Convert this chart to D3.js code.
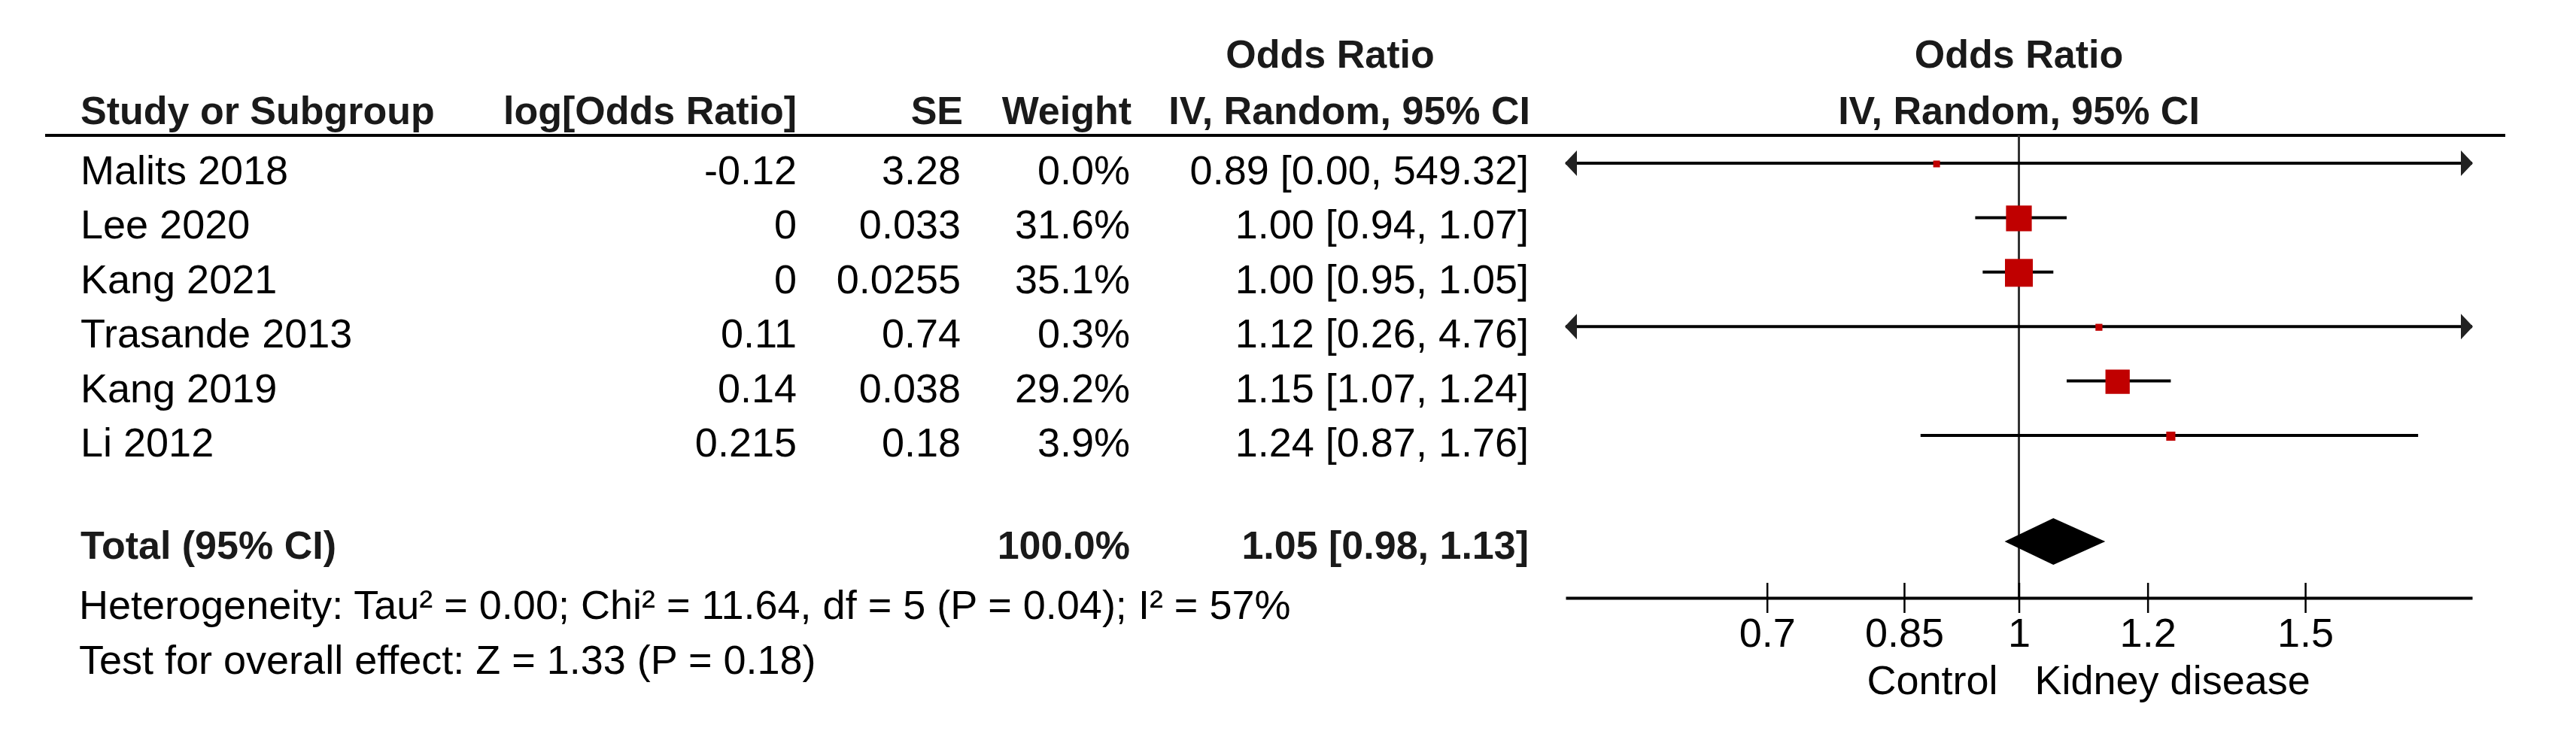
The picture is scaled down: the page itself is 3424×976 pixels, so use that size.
<!DOCTYPE html>
<html>
<head>
<meta charset="utf-8">
<script src="https://cdn.jsdelivr.net/npm/d3@7"></script>
<style>
  body { margin: 0; background: #fff; }
  text { font-family: "Liberation Sans", Arial, sans-serif; font-size: 54px; fill: #000; }
  .bold { font-weight: bold; fill: #1a1a1a; font-size: 52px; }
</style>
</head>
<body>
<div id="chart"></div>
<script>
// study data
const studies = ["Malits 2018", "Lee 2020", "Kang 2021", "Trasande 2013", "Kang 2019", "Li 2012"];
const logOR = ["-0.12", "0", "0", "0.11", "0.14", "0.215"];
const seVals = ["3.28", "0.033", "0.0255", "0.74", "0.038", "0.18"];
const weights = [0.0, 31.6, 35.1, 0.3, 29.2, 3.9];
const orVals = [0.89, 1.00, 1.00, 1.12, 1.15, 1.24];
const ciLow = [0.00, 0.94, 0.95, 0.26, 1.07, 0.87];
const ciHigh = [549.32, 1.07, 1.05, 4.76, 1.24, 1.76];
const total = { or: 1.05, lo: 0.98, hi: 1.13, weight: "100.0%" };
const tickVals = [0.7, 0.85, 1, 1.2, 1.5];
const heterogeneity = "Heterogeneity: Tau\u00b2 = 0.00; Chi\u00b2 = 11.64, df = 5 (P = 0.04); I\u00b2 = 57%";
const overall = "Test for overall effect: Z = 1.33 (P = 0.18)";

const width = 3424, height = 976;
const svg = d3.select("#chart").append("svg")
  .attr("width", width)
  .attr("height", height);

const x = d3.scaleLog().domain([1 / 1.9, 1.9]).range([2081, 3286]);
const [xMin, xMax] = x.domain();
const size = d3.scaleLinear().domain([0, 35.1]).range([9, 37]);

const rowBase = i => 245 + i * 72.4;
const rowMid = i => rowBase(i) - 28;
const axisY = 795;
const fmt = d3.format(".2f");

// headers
svg.append("text").attr("class", "bold").attr("x", 1768).attr("y", 90)
  .attr("text-anchor", "middle").text("Odds Ratio");
svg.append("text").attr("class", "bold").attr("x", x(1)).attr("y", 90)
  .attr("text-anchor", "middle").text("Odds Ratio");
svg.append("text").attr("class", "bold").attr("x", 107).attr("y", 165).text("Study or Subgroup");
svg.append("text").attr("class", "bold").attr("x", 1059).attr("y", 165)
  .attr("text-anchor", "end").text("log[Odds Ratio]");
svg.append("text").attr("class", "bold").attr("x", 1280).attr("y", 165)
  .attr("text-anchor", "end").text("SE");
svg.append("text").attr("class", "bold").attr("x", 1504).attr("y", 165)
  .attr("text-anchor", "end").text("Weight");
svg.append("text").attr("class", "bold").attr("x", 2034).attr("y", 165)
  .attr("text-anchor", "end").text("IV, Random, 95% CI");
svg.append("text").attr("class", "bold").attr("x", x(1)).attr("y", 165)
  .attr("text-anchor", "middle").text("IV, Random, 95% CI");

svg.append("line")
  .attr("x1", 60).attr("x2", 3330)
  .attr("y1", 180).attr("y2", 180)
  .attr("stroke", "#000").attr("stroke-width", 4);

// null line
svg.append("line")
  .attr("x1", x(1)).attr("x2", x(1))
  .attr("y1", 180).attr("y2", axisY)
  .attr("stroke", "#333").attr("stroke-width", 3);

// table rows
studies.forEach((s, i) => {
  const y = rowBase(i);
  svg.append("text").attr("x", 107).attr("y", y).text(s);
  svg.append("text").attr("x", 1059).attr("y", y).attr("text-anchor", "end").text(logOR[i]);
  svg.append("text").attr("x", 1277).attr("y", y).attr("text-anchor", "end").text(seVals[i]);
  svg.append("text").attr("x", 1502).attr("y", y).attr("text-anchor", "end").text(weights[i].toFixed(1) + "%");
  svg.append("text").attr("x", 2032).attr("y", y).attr("text-anchor", "end")
    .text(`${fmt(orVals[i])} [${fmt(ciLow[i])}, ${fmt(ciHigh[i])}]`);

  const m = rowMid(i);
  const lo = Math.max(ciLow[i], xMin), hi = Math.min(ciHigh[i], xMax);
  svg.append("line")
    .attr("x1", x(lo)).attr("x2", x(hi))
    .attr("y1", m).attr("y2", m)
    .attr("stroke", "#000").attr("stroke-width", 4);
  if (ciLow[i] < xMin) {
    svg.append("path")
      .attr("d", `M${x(xMin) - 1},${m} L${x(xMin) + 15},${m - 17} L${x(xMin) + 15},${m + 17} Z`)
      .attr("fill", "#222");
  }
  if (ciHigh[i] > xMax) {
    svg.append("path")
      .attr("d", `M${x(xMax) + 1},${m} L${x(xMax) - 15},${m - 17} L${x(xMax) - 15},${m + 17} Z`)
      .attr("fill", "#222");
  }
  const sz = size(weights[i]);
  svg.append("rect")
    .attr("x", x(orVals[i]) - sz / 2)
    .attr("y", m - sz / 2 + 1)
    .attr("width", sz)
    .attr("height", sz)
    .attr("fill", "#c00000");
});

// total row
const totBase = 743;
svg.append("text").attr("class", "bold").attr("x", 107).attr("y", totBase).text("Total (95% CI)");
svg.append("text").attr("class", "bold").attr("x", 1502).attr("y", totBase)
  .attr("text-anchor", "end").text(total.weight);
svg.append("text").attr("class", "bold").attr("x", 2032).attr("y", totBase)
  .attr("text-anchor", "end")
  .text(`${fmt(total.or)} [${fmt(total.lo)}, ${fmt(total.hi)}]`);

const dy = 720;
svg.append("path")
  .attr("d", `M${x(total.lo)},${dy} L${x(total.or)},${dy - 31} L${x(total.hi)},${dy} L${x(total.or)},${dy + 31} Z`)
  .attr("fill", "#000");

svg.append("text").attr("x", 105).attr("y", 823).text(heterogeneity);
svg.append("text").attr("x", 105).attr("y", 896).text(overall);

// axis
const axis = svg.append("g")
  .attr("transform", `translate(0,${axisY})`)
  .call(d3.axisBottom(x).tickValues(tickVals).tickFormat(d => d).tickSizeOuter(0));
axis.select(".domain").attr("stroke", "#000").attr("stroke-width", 4);
axis.selectAll(".tick line")
  .attr("y1", -20).attr("y2", 20)
  .attr("stroke", "#000").attr("stroke-width", 2.5);
axis.selectAll(".tick text")
  .attr("y", 65).attr("dy", null)
  .style("font-family", '"Liberation Sans", Arial, sans-serif')
  .style("font-size", "54px").attr("fill", "#000");

svg.append("text").attr("x", x(1) - 28).attr("y", 923)
  .attr("text-anchor", "end").text("Control");
svg.append("text").attr("x", x(1) + 21).attr("y", 923).text("Kidney disease");
</script>
</body>
</html>
